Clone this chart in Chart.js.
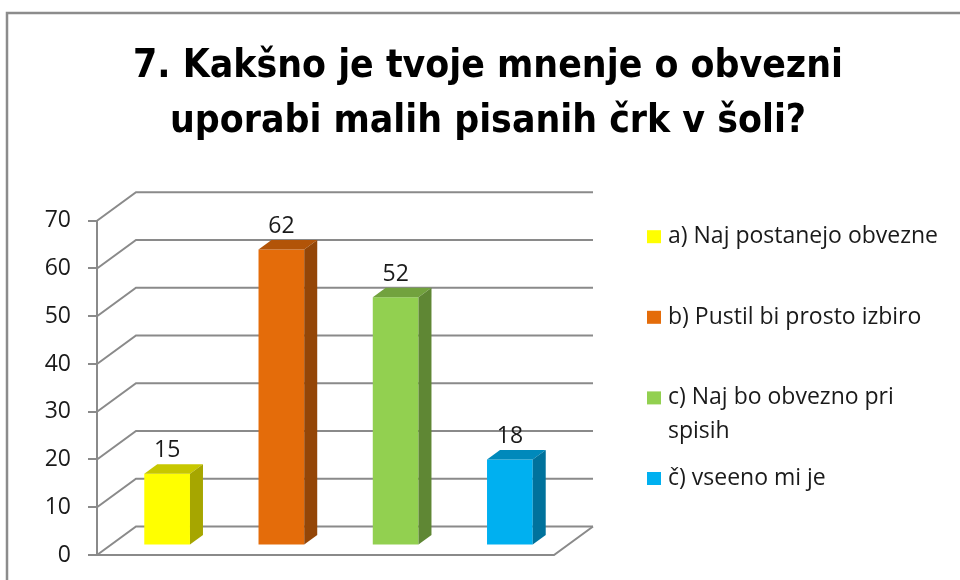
<!DOCTYPE html>
<html>
<head>
<meta charset="utf-8">
<script src="https://cdn.jsdelivr.net/npm/chart.js@4/dist/chart.umd.min.js"></script>
<style>
html,body{margin:0;padding:0;background:#fff;}
#wrap{width:960px;height:580px;position:relative;}
</style>
</head>
<body>
<div id="wrap"><canvas id="c" width="960" height="580"></canvas></div>
<script>
// ---- data ----
const titleLines = ['7. Kakšno je tvoje mnenje o obvezni', 'uporabi malih pisanih črk v šoli?'];
const categories = ['a) Naj postanejo obvezne', 'b) Pustil bi prosto izbiro', 'c) Naj bo obvezno pri spisih', 'č) vseeno mi je'];
const values = [15, 62, 52, 18];
const yTicks = [0, 10, 20, 30, 40, 50, 60, 70];

// ---- styles ----
const barColors = ['#FFFF00', '#E46C0A', '#92D050', '#00B0F0'];
const gridColor = '#8a8a8a';
const textColor = '#1a1a1a';
const bodyFont = '"Open Sans", "Noto Sans", sans-serif';
const bodySize = 23;
const DX = 39, DY = -28.5;          // full depth of the 3D box
const BDX = DX / 3, BDY = DY / 3;   // bar depth / offset

function fontAvailable(name) {
  const c = document.createElement('canvas').getContext('2d');
  const s = '7. Kakšno je tvoje mnenje o obvezni';
  c.font = 'bold 40px monospace';
  const a = c.measureText(s).width;
  c.font = 'bold 40px "' + name + '", monospace';
  return c.measureText(s).width !== a;
}
const titleCands = ['Liberation Sans Narrow', 'DejaVu Sans Condensed', 'Roboto Condensed', 'Noto Sans Condensed', 'Open Sans Condensed', 'Liberation Sans'];
let titleFamily = 'sans-serif';
for (const f of titleCands) { if (fontAvailable(f)) { titleFamily = '"' + f + '"'; break; } }
let titleSize = 44;
(function fit() {
  const c = document.createElement('canvas').getContext('2d');
  c.font = 'bold 44px ' + titleFamily;
  const w = c.measureText(titleLines[0]).width;
  titleSize = Math.max(30, Math.min(52, 44 * 710 / w));
})();

function shade(hex, f) {
  const n = parseInt(hex.slice(1), 16);
  const r = Math.round(((n >> 16) & 255) * f), g = Math.round(((n >> 8) & 255) * f), b = Math.round((n & 255) * f);
  return 'rgb(' + r + ',' + g + ',' + b + ')';
}

const framePlugin = {
  id: 'frame',
  beforeDraw(chart) {
    const ctx = chart.ctx;
    ctx.save();
    ctx.fillStyle = '#fff';
    ctx.fillRect(0, 0, chart.width, chart.height);
    ctx.strokeStyle = '#8c8c8c';
    ctx.lineWidth = 2.5;
    ctx.beginPath();
    ctx.moveTo(7, chart.height + 10);
    ctx.lineTo(7, 13);
    ctx.lineTo(chart.width + 10, 13);
    ctx.stroke();
    ctx.restore();
  }
};

const box3dPlugin = {
  id: 'box3d',
  beforeDatasetsDraw(chart) {
    const ctx = chart.ctx;
    const {left, right} = chart.chartArea;
    const ys = chart.scales.y;
    ctx.save();
    ctx.strokeStyle = gridColor;
    ctx.lineWidth = 2;
    ys.ticks.forEach(t => {
      const yf = ys.getPixelForValue(t.value);
      ctx.beginPath();
      ctx.moveTo(left, yf);
      ctx.lineTo(left + DX, yf + DY);
      ctx.lineTo(right + DX, yf + DY);
      ctx.stroke();
    });
    const y0 = ys.getPixelForValue(0);
    ctx.beginPath();
    ctx.moveTo(left, y0);
    ctx.lineTo(right, y0);
    ctx.lineTo(right + DX, y0 + DY);
    ctx.stroke();
    ctx.restore();
    ctx.save();
    ctx.translate(BDX, BDY);
  },
  afterDatasetsDraw(chart) {
    const ctx = chart.ctx;
    const meta = chart.getDatasetMeta(0);
    meta.data.forEach((bar, i) => {
      const p = bar.getProps(['x', 'y', 'base', 'width'], true);
      const l = p.x - p.width / 2, r = p.x + p.width / 2;
      const col = barColors[i % barColors.length];
      ctx.fillStyle = shade(col, 0.78);
      ctx.beginPath();
      ctx.moveTo(l, p.y); ctx.lineTo(l + BDX, p.y + BDY); ctx.lineTo(r + BDX, p.y + BDY); ctx.lineTo(r, p.y);
      ctx.closePath(); ctx.fill();
      ctx.fillStyle = shade(col, 0.65);
      ctx.beginPath();
      ctx.moveTo(r, p.y); ctx.lineTo(r + BDX, p.y + BDY); ctx.lineTo(r + BDX, p.base + BDY); ctx.lineTo(r, p.base);
      ctx.closePath(); ctx.fill();
      // value label
      ctx.fillStyle = textColor;
      ctx.font = bodySize + 'px ' + bodyFont;
      ctx.textAlign = 'center';
      ctx.textBaseline = 'alphabetic';
      ctx.fillText(String(chart.data.datasets[0].data[i]), p.x, p.y + BDY - 7);
    });
    ctx.restore();
  }
};

function wrapText(ctx, text, maxW) {
  const words = text.split(' ');
  const lines = [];
  let cur = '';
  for (const w of words) {
    const t = cur ? cur + ' ' + w : w;
    if (cur && ctx.measureText(t).width > maxW) { lines.push(cur); cur = w; } else cur = t;
  }
  if (cur) lines.push(cur);
  return lines;
}

const legendPlugin = {
  id: 'sideLegend',
  afterDraw(chart) {
    const ctx = chart.ctx;
    const area = chart.chartArea;
    const bx = area.right + 93, tx = area.right + 114;
    let y = area.top + 16;
    const step = 80.6, lineH = 33.5;
    ctx.save();
    ctx.font = bodySize + 'px ' + bodyFont;
    ctx.textAlign = 'left';
    ctx.textBaseline = 'middle';
    chart.data.labels.forEach((lab, i) => {
      ctx.fillStyle = barColors[i % barColors.length];
      ctx.fillRect(bx, y - 6.5, 14, 13);
      ctx.fillStyle = textColor;
      const lines = wrapText(ctx, lab, 282);
      lines.forEach((ln, k) => ctx.fillText(ln, tx, y + k * lineH));
      y += step;
    });
    ctx.restore();
  }
};

new Chart(document.getElementById('c'), {
  type: 'bar',
  data: {
    labels: categories,
    datasets: [{
      label: 'Odgovori',
      data: values,
      backgroundColor: barColors,
      borderWidth: 0,
      categoryPercentage: 1.0,
      barPercentage: 0.4
    }]
  },
  options: {
    responsive: false,
    animation: false,
    devicePixelRatio: 1,
    layout: { padding: { top: 10, left: 16, right: 0, bottom: 25 } },
    plugins: {
      legend: { display: false },
      tooltip: { enabled: false },
      title: {
        display: true,
        text: titleLines,
        color: '#000',
        font: { family: titleFamily, size: titleSize, weight: 'bold', lineHeight: '55px' },
        padding: { top: 29, bottom: 71.7 }
      }
    },
    scales: {
      x: { display: false },
      y: {
        position: 'left',
        min: 0, max: 70,
        afterBuildTicks(s) { s.ticks = yTicks.map(v => ({ value: v })); },
        afterFit(s) { s.width = 81; s.paddingBottom = Math.min(s.paddingBottom, 18); s.paddingTop = Math.min(s.paddingTop, 18); },
        grid: { drawOnChartArea: false, drawTicks: true, tickLength: 9, color: gridColor, lineWidth: 2 },
        border: { display: true, color: gridColor, width: 2 },
        ticks: { color: textColor, font: { family: bodyFont, size: bodySize }, padding: 17 }
      },
      y2: {
        position: 'right',
        min: 0, max: 70,
        grid: { display: false, drawTicks: false },
        border: { display: false },
        ticks: { display: false },
        afterFit(s) { s.width = 406; s.paddingBottom = 0; s.paddingTop = 0; }
      }
    }
  },
  plugins: [framePlugin, box3dPlugin, legendPlugin]
});
</script>
</body>
</html>
